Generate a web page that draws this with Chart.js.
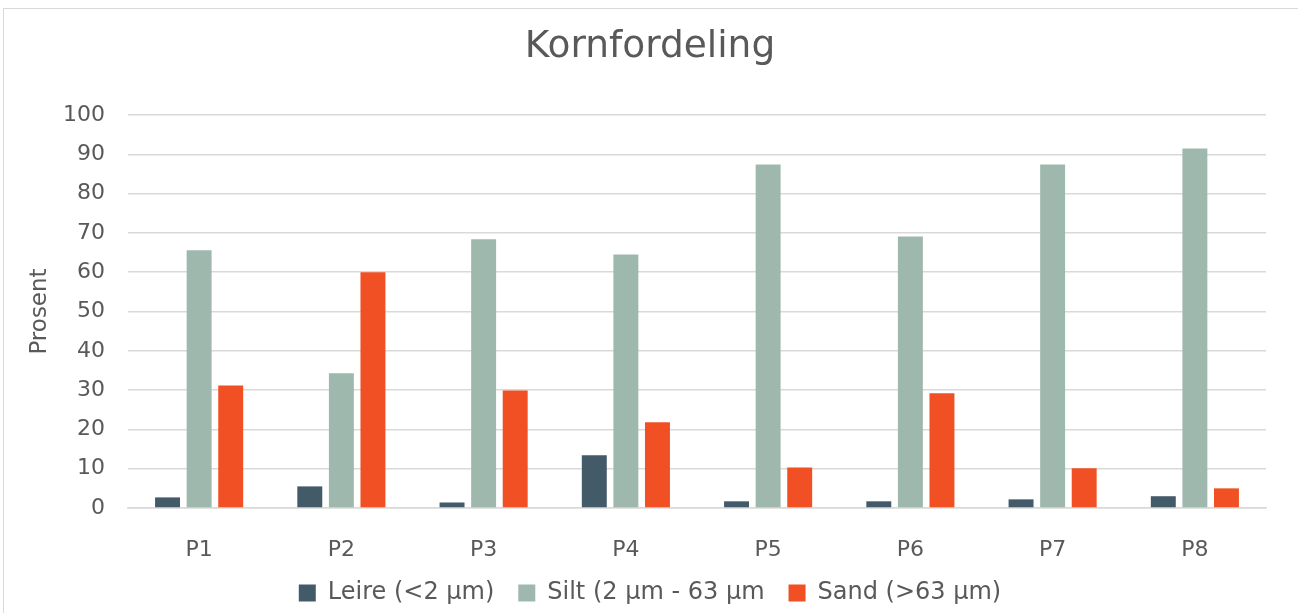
<!DOCTYPE html>
<html>
<head>
<meta charset="utf-8">
<script src="https://cdn.jsdelivr.net/npm/chart.js@4/dist/chart.umd.min.js"></script>
<style>
  body { margin: 0; background: #fff; }
  #box { position: absolute; left: 3px; top: 8px; width: 1300px; height: 610px; border: 1px solid #d9d9d9; box-sizing: border-box; }
  #wrap { position: absolute; left: 0; top: 0; width: 1298px; height: 613px; }
</style>
</head>
<body>
<div id="box"></div>
<div id="wrap"><canvas id="chart"></canvas></div>
<script>
const labels = ["P1", "P2", "P3", "P4", "P5", "P6", "P7", "P8"];
const leire = [2.7, 5.5, 1.4, 13.4, 1.7, 1.7, 2.2, 3.0];
const silt = [65.6, 34.3, 68.4, 64.5, 87.4, 69.1, 87.4, 91.5];
const sand = [31.2, 60.0, 29.9, 21.8, 10.3, 29.2, 10.1, 5.0];

const textColor = "#595959";
const font = "'DejaVu Sans', Verdana, sans-serif";

new Chart(document.getElementById("chart"), {
  type: "bar",
  data: {
    labels: labels,
    datasets: [
      { label: "Leire (<2 µm)", data: leire, backgroundColor: "#435a69" },
      { label: "Silt (2 µm - 63 µm", data: silt, backgroundColor: "#9fb8ae" },
      { label: "Sand (>63 µm)", data: sand, backgroundColor: "#f05023" },
    ],
  },
  options: {
    responsive: true,
    maintainAspectRatio: false,
    animation: false,
    categoryPercentage: 0.666,
    barPercentage: 0.79,
    layout: { padding: { left: 34, right: 32, top: 25, bottom: -2 } },
    plugins: {
      title: {
        display: true,
        text: "Kornfordeling",
        color: textColor,
        font: { family: font, size: 37.5, weight: "normal" },
        padding: { top: 0, bottom: 45 },
      },
      legend: {
        position: "bottom",
        labels: {
          color: textColor,
          font: { family: font, size: 24, lineHeight: 1 },
          boxWidth: 17,
          boxHeight: 17,
          padding: 24,
        },
      },
      tooltip: { enabled: false },
    },
    scales: {
      x: {
        grid: { display: false, drawTicks: false },
        border: { color: "#d9d9d9", width: 1.5 },
        ticks: { color: textColor, font: { family: font, size: 22, lineHeight: 1 }, padding: 31 },
        // chart.js reserves padding on both sides of the labels; keep the axis compact
        afterFit: (axis) => { axis.height = 49; },
      },
      y: {
        min: 0,
        max: 100,
        ticks: { stepSize: 10, color: textColor, font: { family: font, size: 22 }, padding: 23 },
        grid: { color: "#d9d9d9", lineWidth: 1.5, drawTicks: false },
        border: { display: false },
        title: {
          display: true,
          text: "Prosent",
          color: textColor,
          font: { family: font, size: 23 },
          padding: { top: -8, bottom: 0 },
        },
        afterFit: (axis) => { axis.width = 94; },
      },
    },
  },
});
</script>
</body>
</html>
